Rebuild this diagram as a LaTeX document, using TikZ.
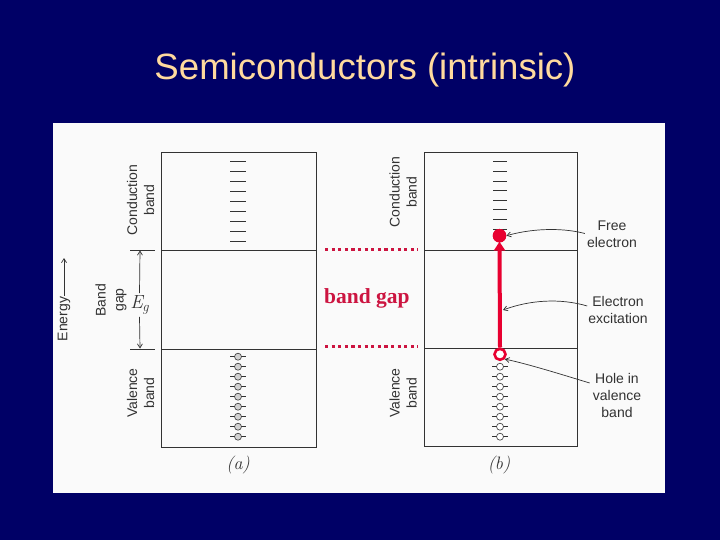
\documentclass[tikz,border=0pt]{standalone}
\usepackage{fontspec}
\newfontfamily\lsans{Liberation Sans}
\newfontfamily\lserif{Liberation Serif}
\usetikzlibrary{arrows.meta}
\definecolor{navy}{RGB}{0,0,102}
\definecolor{titlecol}{RGB}{255,218,158}
\definecolor{gapred}{RGB}{204,20,64}
\definecolor{brightred}{RGB}{232,0,48}
\definecolor{inkgray}{RGB}{50,50,50}
\definecolor{paper}{RGB}{250,250,250}
\begin{document}
\begin{tikzpicture}[x=1pt,y=-1pt,
  box/.style={draw=inkgray,line width=0.9pt},
  thinline/.style={draw=inkgray,line width=0.7pt},
  lab/.style={font=\lsans\fontsize{14}{17}\selectfont,text=inkgray,align=center,inner sep=0pt},
  gaparrow/.style={draw=inkgray,line width=0.7pt,-{Straight Barb[length=4pt,width=5pt]}},
  pointer/.style={draw=inkgray,line width=0.7pt,-{Straight Barb[length=4pt,width=5pt]}},
  gapline/.style={draw=gapred,line width=3pt,dash pattern=on 3.2pt off 3.4pt},
  level/.style={draw=inkgray,line width=0.7pt},
  stateA/.style={circle,draw=inkgray,fill=gray!35,line width=0.6pt,minimum size=7pt,inner sep=0pt},
  stateB/.style={circle,draw=inkgray,fill=white,line width=0.6pt,minimum size=7pt,inner sep=0pt},
  sublab/.style={font=\fontsize{18}{20}\selectfont\itshape,text=inkgray,inner sep=0pt}
]
\useasboundingbox (0,0) rectangle (720,540);
\fill[navy] (0,0) rectangle (720,540);
\fill[paper] (53,123) rectangle (665,493);

% title
\node[font=\lsans\fontsize{36.6}{40}\selectfont,text=titlecol] (title) at (365,70) {Semiconductors (intrinsic)};

% ---------- panel (a) ----------
\draw[box] (161,152) rectangle (316,447);
\draw[box] (161,250) -- (316,250);
\draw[box] (161,349) -- (316,349);
\foreach \i in {0,...,8} {
  \draw[level] (230,{161.7+9.9*\i}) -- (246,{161.7+9.9*\i});
}
\foreach \i in {0,...,8} {
  \draw[level] (230,{356.7+10*\i}) -- (246,{356.7+10*\i});
  \node[stateA,name=va\i] at (238,{356.7+10*\i}) {};
}
\node[lab,rotate=90] (condA) at (140.5,200) {Conduction\\band};
\node[lab,rotate=90] (valA) at (140.5,393) {Valence\\band};
\node[lab,rotate=90,font=\lsans\fontsize{14}{18}\selectfont] (bandgap) at (111,300) {Band\\gap};
\node[lab,rotate=90] (energy) at (64,319) {Energy};
\coordinate (etip) at (64,258);
\draw[gaparrow] (energy.east) ++(0,-1) -- (etip);
\draw[thinline] (130,250) -- (155,250);
\draw[thinline] (130,349) -- (155,349);
\node[inner sep=2pt,text=inkgray,font=\fontsize{19}{20}\selectfont\itshape] (eg) at (139.5,305) {E\kern-0.5pt\raisebox{-3.5pt}{\fontsize{14}{14}\selectfont g}};
\coordinate (gtop) at (140,250.5);
\coordinate (gbot) at (140,348.5);
\draw[gaparrow] (eg.north) -- (gtop);
\draw[gaparrow] (eg.south) -- (gbot);
\node[sublab] (suba) at (238,465) {(a)};

% ---------- band gap marker ----------
\coordinate (gl1) at (325,249.5);
\coordinate (gr1) at (418,249.5);
\coordinate (gl2) at (325,346.5);
\coordinate (gr2) at (418,346.5);
\draw[gapline] (gl1) -- (gr1);
\draw[gapline] (gl2) -- (gr2);
\node[font=\lserif\bfseries\fontsize{21.5}{24}\selectfont,text=gapred,anchor=base west,inner sep=0pt] (gaptext) at (324,303) {band gap};

% ---------- panel (b) ----------
\draw[box] (424,152) rectangle (577,446);
\draw[box] (424,250) -- (577,250);
\draw[box] (424,348) -- (577,348);
\foreach \i in {0,...,7} {
  \draw[level] (493,{161.7+9.6*\i}) -- (507,{161.7+9.6*\i});
}
\foreach \i in {0,...,7} {
  \draw[level] (492,{366.7+10*\i}) -- (508,{366.7+10*\i});
  \node[stateB,name=vb\i] at (500,{366.7+10*\i}) {};
}
\node[lab,rotate=90] (condB) at (403,192) {Conduction\\band};
\node[lab,rotate=90] (valB) at (403,393) {Valence\\band};

\node[circle,draw=brightred,fill=white,line width=2.6pt,minimum size=11pt,inner sep=0pt] (hole) at (500,354.3) {};
\node[circle,fill=brightred,minimum size=13.5pt,inner sep=0pt] (edot) at (499.5,235.7) {};
\draw[draw=brightred,line width=4pt,-{Triangle[length=9pt,width=11pt]}] (hole.north) -- ([yshift=1pt]edot.south);
\fill[brightred] (edot) circle (6.75pt);

\node[lab] (free) at (612,234.5) {Free\\electron};
\node[lab] (excite) at (618,310) {Electron\\excitation};
\node[lab] (holelab) at (617,395) {Hole in\\valence\\band};
\coordinate (excpt) at (503,310);
\draw[pointer] (free.west) ++(-2,-1) .. controls (560,227) and (530,229) .. (edot.east);
\draw[pointer] (excite.west) ++(-1,-4) .. controls (560,298) and (530,300) .. (excpt);
\draw[pointer] (holelab.west) ++(-3,-12) .. controls (560,374) and (528,364) .. (hole.south east);

\node[sublab] (subb) at (499,465) {(b)};
\end{tikzpicture}
\end{document}
